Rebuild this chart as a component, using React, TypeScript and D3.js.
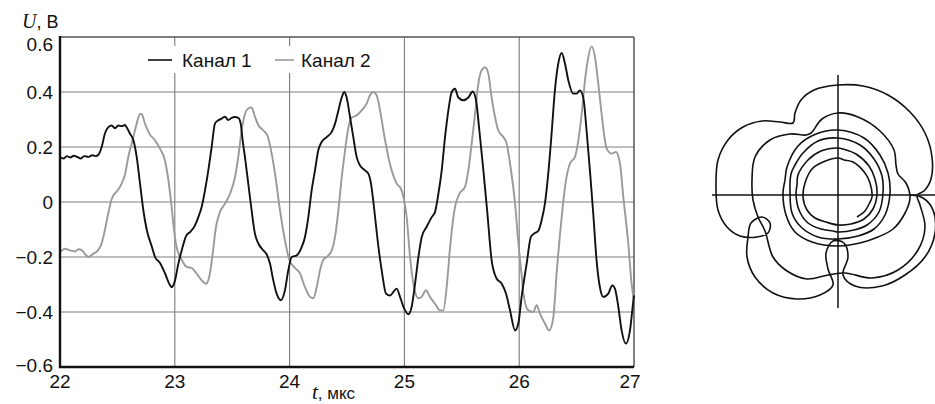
import React from "react";
import * as d3 from "d3";

// ---- data ----
const xTicks = [22, 23, 24, 25, 26, 27];
const yTicks = [-0.6, -0.4, -0.2, 0, 0.2, 0.4, 0.6];
const yTickLabels = ["−0.6", "−0.4", "−0.2", "0", "0.2", "0.4", "0.6"];
const seriesNames = ["Канал 1", "Канал 2"];

const channel1: [number, number][] = [
  [22.0, 0.164], [22.03, 0.158], [22.06, 0.167], [22.09, 0.162], [22.12, 0.168], [22.15, 0.164],
  [22.18, 0.158], [22.21, 0.167], [22.25, 0.164], [22.28, 0.17], [22.31, 0.167], [22.335, 0.172],
  [22.363, 0.2], [22.392, 0.25], [22.421, 0.272], [22.45, 0.278], [22.479, 0.268], [22.508, 0.278],
  [22.537, 0.276], [22.566, 0.28], [22.58, 0.272], [22.61, 0.248], [22.639, 0.225], [22.668, 0.164],
  [22.697, 0.067], [22.726, -0.03], [22.755, -0.1], [22.798, -0.16], [22.828, -0.2], [22.871, -0.222],
  [22.915, -0.26], [22.955, -0.3], [22.973, -0.31], [23.002, -0.285], [23.031, -0.224], [23.06, -0.176],
  [23.103, -0.12], [23.132, -0.11], [23.176, -0.085], [23.205, -0.055], [23.234, -0.018], [23.263, 0.042],
  [23.292, 0.115], [23.321, 0.2], [23.35, 0.285], [23.379, 0.297], [23.408, 0.303], [23.437, 0.31],
  [23.466, 0.298], [23.495, 0.306], [23.524, 0.309], [23.553, 0.306], [23.574, 0.285], [23.591, 0.224],
  [23.611, 0.164], [23.64, 0.067], [23.669, -0.03], [23.698, -0.115], [23.727, -0.15], [23.771, -0.176],
  [23.8, -0.19], [23.829, -0.224], [23.858, -0.285], [23.887, -0.333], [23.925, -0.357], [23.96, -0.32],
  [23.99, -0.245], [24.018, -0.2], [24.062, -0.194], [24.105, -0.164], [24.134, -0.127], [24.163, -0.055],
  [24.192, 0.042], [24.221, 0.115], [24.25, 0.188], [24.279, 0.218], [24.323, 0.236], [24.367, 0.255],
  [24.396, 0.285], [24.425, 0.333], [24.454, 0.38], [24.477, 0.4], [24.497, 0.38], [24.526, 0.31],
  [24.555, 0.236], [24.584, 0.164], [24.613, 0.133], [24.657, 0.115], [24.686, 0.103], [24.709, 0.067],
  [24.738, -0.03], [24.767, -0.14], [24.802, -0.248], [24.84, -0.333], [24.875, -0.34], [24.904, -0.327],
  [24.933, -0.315], [24.962, -0.345], [24.995, -0.385], [25.035, -0.408], [25.064, -0.38], [25.093, -0.297],
  [25.122, -0.2], [25.151, -0.127], [25.194, -0.09], [25.238, -0.055], [25.267, -0.036], [25.296, 0.03],
  [25.325, 0.115], [25.354, 0.236], [25.383, 0.333], [25.412, 0.4], [25.441, 0.412], [25.47, 0.38],
  [25.514, 0.37], [25.557, 0.38], [25.595, 0.402], [25.624, 0.37], [25.653, 0.26], [25.688, 0.115],
  [25.723, -0.042], [25.76, -0.212], [25.804, -0.279], [25.848, -0.297], [25.885, -0.333], [25.92, -0.394],
  [25.964, -0.467], [25.993, -0.44], [26.021, -0.345], [26.065, -0.224], [26.102, -0.127], [26.137, -0.113],
  [26.166, -0.105], [26.195, -0.067], [26.224, -0.006], [26.253, 0.103], [26.282, 0.248], [26.311, 0.406],
  [26.34, 0.503], [26.37, 0.542], [26.399, 0.503], [26.428, 0.442], [26.471, 0.394], [26.5, 0.394],
  [26.529, 0.406], [26.558, 0.38], [26.587, 0.26], [26.616, 0.115], [26.645, -0.042], [26.674, -0.212],
  [26.703, -0.31], [26.732, -0.345], [26.776, -0.333], [26.811, -0.303], [26.834, -0.315], [26.863, -0.38],
  [26.892, -0.467], [26.93, -0.515], [26.965, -0.467], [26.994, -0.36], [27.0, -0.34],
];

const channel2: [number, number][] = [
  [22.0, -0.182], [22.044, -0.17], [22.087, -0.176], [22.131, -0.18], [22.16, -0.172], [22.189, -0.175],
  [22.22, -0.19], [22.247, -0.2], [22.29, -0.188], [22.334, -0.174], [22.363, -0.15], [22.392, -0.1],
  [22.421, -0.04], [22.45, 0.01], [22.465, 0.024], [22.494, 0.038], [22.537, 0.067], [22.566, 0.1],
  [22.595, 0.164], [22.639, 0.236], [22.668, 0.285], [22.697, 0.32], [22.711, 0.32], [22.74, 0.285],
  [22.784, 0.245], [22.828, 0.224], [22.871, 0.194], [22.915, 0.15], [22.944, 0.08], [22.973, -0.02],
  [22.987, -0.08], [23.016, -0.164], [23.06, -0.21], [23.103, -0.236], [23.147, -0.24], [23.19, -0.26],
  [23.234, -0.285], [23.272, -0.297], [23.301, -0.27], [23.33, -0.188], [23.359, -0.09], [23.394, -0.036],
  [23.437, -0.006], [23.481, 0.03], [23.524, 0.09], [23.553, 0.164], [23.582, 0.26], [23.611, 0.32],
  [23.64, 0.34], [23.669, 0.344], [23.698, 0.31], [23.727, 0.28], [23.771, 0.26], [23.806, 0.242],
  [23.844, 0.176], [23.881, 0.08], [23.916, -0.03], [23.96, -0.14], [23.997, -0.21], [24.047, -0.24],
  [24.091, -0.26], [24.134, -0.31], [24.178, -0.345], [24.207, -0.35], [24.236, -0.31], [24.265, -0.248],
  [24.294, -0.21], [24.323, -0.2], [24.367, -0.176], [24.396, -0.127], [24.425, -0.03], [24.454, 0.09],
  [24.483, 0.188], [24.512, 0.27], [24.541, 0.307], [24.584, 0.315], [24.628, 0.333], [24.671, 0.358],
  [24.7, 0.388], [24.729, 0.4], [24.758, 0.388], [24.788, 0.333], [24.817, 0.26], [24.86, 0.164],
  [24.889, 0.115], [24.933, 0.067], [24.97, 0.048], [24.991, 0.02], [25.02, -0.055], [25.049, -0.2],
  [25.084, -0.31], [25.122, -0.35], [25.151, -0.345], [25.188, -0.321], [25.223, -0.345], [25.267, -0.37],
  [25.31, -0.394], [25.339, -0.394], [25.368, -0.31], [25.398, -0.164], [25.441, -0.018], [25.479, 0.03],
  [25.528, 0.055], [25.557, 0.115], [25.586, 0.212], [25.615, 0.32], [25.644, 0.43], [25.673, 0.479],
  [25.702, 0.49], [25.731, 0.467], [25.76, 0.38], [25.789, 0.31], [25.818, 0.26], [25.862, 0.236],
  [25.891, 0.212], [25.92, 0.14], [25.964, -0.006], [25.993, -0.15], [26.022, -0.27], [26.036, -0.33],
  [26.079, -0.394], [26.123, -0.4], [26.152, -0.375], [26.181, -0.406], [26.224, -0.442], [26.262, -0.467],
  [26.297, -0.42], [26.326, -0.26], [26.37, -0.055], [26.399, 0.055], [26.442, 0.14], [26.486, 0.164],
  [26.515, 0.224], [26.544, 0.32], [26.573, 0.442], [26.602, 0.527], [26.631, 0.566], [26.66, 0.527],
  [26.689, 0.43], [26.718, 0.32], [26.762, 0.194], [26.805, 0.176], [26.843, 0.182], [26.878, 0.14],
  [26.907, 0.018], [26.95, -0.15], [26.979, -0.297], [27.0, -0.36],
];

// hodograph (right panel), in relative units
const hodograph: [number, number][] = [
  // inner rings
  [0.19, -0.22], [0.27, -0.16], [0.31, -0.09], [0.34, -0.02], [0.32, 0.12], [0.27, 0.22], [0.15, 0.33],
  [0.06, 0.35], [0.0, 0.37], [-0.15, 0.33], [-0.26, 0.26], [-0.33, 0.12], [-0.35, -0.02], [-0.31, -0.15],
  [-0.23, -0.23], [-0.12, -0.27], [0.0, -0.3], [0.13, -0.29],
  [0.26, -0.24], [0.35, -0.14], [0.39, 0.01], [0.37, 0.16], [0.31, 0.29], [0.18, 0.41], [0.05, 0.46],
  [0.0, 0.47], [-0.17, 0.44], [-0.3, 0.35], [-0.4, 0.2], [-0.41, 0.1], [-0.42, 0.02], [-0.39, -0.15],
  [-0.3, -0.28], [-0.17, -0.34], [-0.05, -0.36], [0.0, -0.37], [0.16, -0.35],
  [0.29, -0.3], [0.41, -0.17], [0.45, 0.02], [0.44, 0.19], [0.36, 0.36], [0.22, 0.5], [0.0, 0.57],
  [-0.2, 0.54], [-0.35, 0.42], [-0.43, 0.3], [-0.47, 0.21], [-0.48, 0.02], [-0.46, -0.18], [-0.37, -0.32],
  [-0.2, -0.42], [0.0, -0.44], [0.2, -0.41],
  [0.36, -0.34], [0.47, -0.2], [0.52, 0.02], [0.5, 0.22], [0.42, 0.4], [0.26, 0.57], [0.0, 0.65],
  [-0.22, 0.61], [-0.4, 0.49], [-0.51, 0.28], [-0.53, 0.15], [-0.55, 0.02], [-0.52, -0.2], [-0.43, -0.37],
  [-0.26, -0.47], [0.0, -0.51], [0.22, -0.48],
  // middle lobed turn
  [0.4, -0.42], [0.55, -0.34], [0.66, -0.2], [0.72, -0.03], [0.68, 0.12], [0.6, 0.21], [0.58, 0.3],
  [0.56, 0.45], [0.42, 0.64], [0.2, 0.78], [0.0, 0.82], [-0.16, 0.76], [-0.27, 0.62], [-0.32, 0.6],
  [-0.48, 0.61], [-0.68, 0.55], [-0.83, 0.38], [-0.86, 0.15], [-0.85, -0.05], [-0.8, -0.22],
  [-0.73, -0.36], [-0.65, -0.62], [-0.51, -0.76], [-0.31, -0.84], [-0.1, -0.8], [0.07, -0.78],
  [0.34, -0.83], [0.6, -0.75], [0.8, -0.55], [0.87, -0.32], [0.82, -0.1], [0.79, 0.0],
  // outer lobed turn
  [0.86, 0.04], [0.93, 0.16], [0.94, 0.38], [0.87, 0.62], [0.72, 0.83], [0.5, 1.0], [0.25, 1.09],
  [0.0, 1.1], [-0.24, 1.05], [-0.37, 0.95], [-0.43, 0.82], [-0.45, 0.72], [-0.58, 0.73], [-0.76, 0.74],
  [-0.95, 0.68], [-1.1, 0.55], [-1.2, 0.35], [-1.22, 0.08], [-1.2, -0.15], [-1.11, -0.32], [-0.98, -0.41],
  [-0.81, -0.42], [-0.7, -0.38], [-0.68, -0.28], [-0.76, -0.22], [-0.87, -0.28], [-0.9, -0.42],
  [-0.91, -0.62], [-0.83, -0.82], [-0.65, -0.98], [-0.41, -1.04], [-0.18, -1.0], [-0.05, -0.9],
  [-0.1, -0.74], [-0.12, -0.58], [-0.05, -0.46], [0.06, -0.48], [0.1, -0.62], [0.05, -0.8],
  [0.17, -0.91], [0.44, -0.91], [0.67, -0.8], [0.87, -0.62], [0.97, -0.38], [0.95, -0.15], [0.85, -0.03],
  [0.73, 0.0],
];

// ---- layout ----
const W = 935;
const H = 404;
const M = { left: 60, right: 634, top: 37, bottom: 367 };
const SANS = "'Liberation Sans', Arial, Helvetica, sans-serif";
const SERIF = "'Liberation Serif', 'Times New Roman', serif";

export default function App() {
  const x = d3.scaleLinear().domain([22, 27]).range([M.left, M.right]);
  const y = d3.scaleLinear().domain([-0.6, 0.6]).range([M.bottom, M.top]);

  const line = d3
    .line<[number, number]>()
    .x((d) => x(d[0]))
    .y((d) => y(d[1]))
    .curve(d3.curveMonotoneX);

  const cx0 = 838;
  const cy0 = 195;
  const hs = 100;
  const hx = d3.scaleLinear().domain([-1, 1]).range([cx0 - hs, cx0 + hs]);
  const hy = d3.scaleLinear().domain([-1, 1]).range([cy0 + hs, cy0 - hs]);
  const hline = d3
    .line<[number, number]>()
    .x((d) => hx(d[0]))
    .y((d) => hy(d[1]))
    .curve(d3.curveCatmullRom.alpha(0.5));

  return (
    <svg
      width={W}
      height={H}
      viewBox={`0 0 ${W} ${H}`}
      style={{ position: "absolute", left: 0, top: 0, background: "#fff" }}
    >
      <rect x={0} y={0} width={W} height={H} fill="#fff" />
      {/* horizontal grid */}
      {yTicks.slice(1, -1).map((v) => (
        <line key={"hg" + v} x1={M.left} x2={M.right} y1={y(v)} y2={y(v)} stroke="#a8a8a8" strokeWidth={1.6} />
      ))}
      {/* vertical grid */}
      {xTicks.slice(1, -1).map((v) => (
        <line key={"vg" + v} x1={x(v)} x2={x(v)} y1={M.top} y2={M.bottom} stroke="#7a7a7a" strokeWidth={1.1} />
      ))}
      {/* frame */}
      <line x1={M.left} x2={M.right} y1={M.top} y2={M.top} stroke="#555" strokeWidth={1.5} />
      <line x1={M.right} x2={M.right} y1={M.top} y2={M.bottom} stroke="#555" strokeWidth={1.5} />

      {/* legend */}
      <rect x={140} y={46} width={245} height={27} fill="#fff" />
      <line x1={148} x2={172} y1={60} y2={60} stroke="#111" strokeWidth={1.6} />
      <text x={182} y={66.5} fontFamily={SANS} fontSize={19} fill="#111">
        {seriesNames[0]}
      </text>
      <line x1={275} x2={294} y1={60} y2={60} stroke="#999" strokeWidth={1.6} />
      <text x={301} y={66.5} fontFamily={SANS} fontSize={19} fill="#111">
        {seriesNames[1]}
      </text>

      {/* series */}
      <path d={line(channel2) || ""} fill="none" stroke="#9a9a9a" strokeWidth={1.9} strokeLinejoin="round" />
      <path d={line(channel1) || ""} fill="none" stroke="#111" strokeWidth={1.9} strokeLinejoin="round" />

      {/* axes */}
      <line x1={M.left} x2={M.left} y1={M.top - 1} y2={M.bottom + 1} stroke="#111" strokeWidth={2.4} />
      <line x1={M.left - 1} x2={M.right} y1={M.bottom} y2={M.bottom} stroke="#111" strokeWidth={2.4} />

      {/* y tick labels */}
      {yTicks.map((v, i) => (
        <text
          key={"yl" + v}
          x={53}
          y={y(v) + (v === 0.6 ? 7 : v === -0.6 ? -2 : 0)}
          dy="0.36em"
          textAnchor="end"
          fontFamily={SANS}
          fontSize={19}
          fill="#111"
        >
          {yTickLabels[i]}
        </text>
      ))}
      {/* x tick labels */}
      {xTicks.map((v) => (
        <text
          key={"xl" + v}
          x={x(v) - (v === 27 ? 4 : 0)}
          y={388}
          textAnchor="middle"
          fontFamily={SANS}
          fontSize={19}
          fill="#111"
        >
          {v}
        </text>
      ))}

      {/* axis titles */}
      <text x={22} y={28} fontSize={20} fill="#111">
        <tspan fontFamily={SERIF} fontStyle="italic">
          U
        </tspan>
        <tspan fontFamily={SANS} fontSize={18}>
          , В
        </tspan>
      </text>
      <text x={312} y={399} fontSize={19} fill="#111">
        <tspan fontFamily={SERIF} fontStyle="italic" fontSize={21}>
          t
        </tspan>
        <tspan fontFamily={SANS} fontSize={17}>
          , мкс
        </tspan>
      </text>

      {/* hodograph */}
      <line x1={hx(-1.26)} x2={W} y1={cy0} y2={cy0} stroke="#111" strokeWidth={1.5} />
      <line x1={cx0} x2={cx0} y1={hy(1.2)} y2={hy(-1.13)} stroke="#111" strokeWidth={1.5} />
      <path d={hline(hodograph) || ""} fill="none" stroke="#111" strokeWidth={1.6} strokeLinejoin="round" />
    </svg>
  );
}
